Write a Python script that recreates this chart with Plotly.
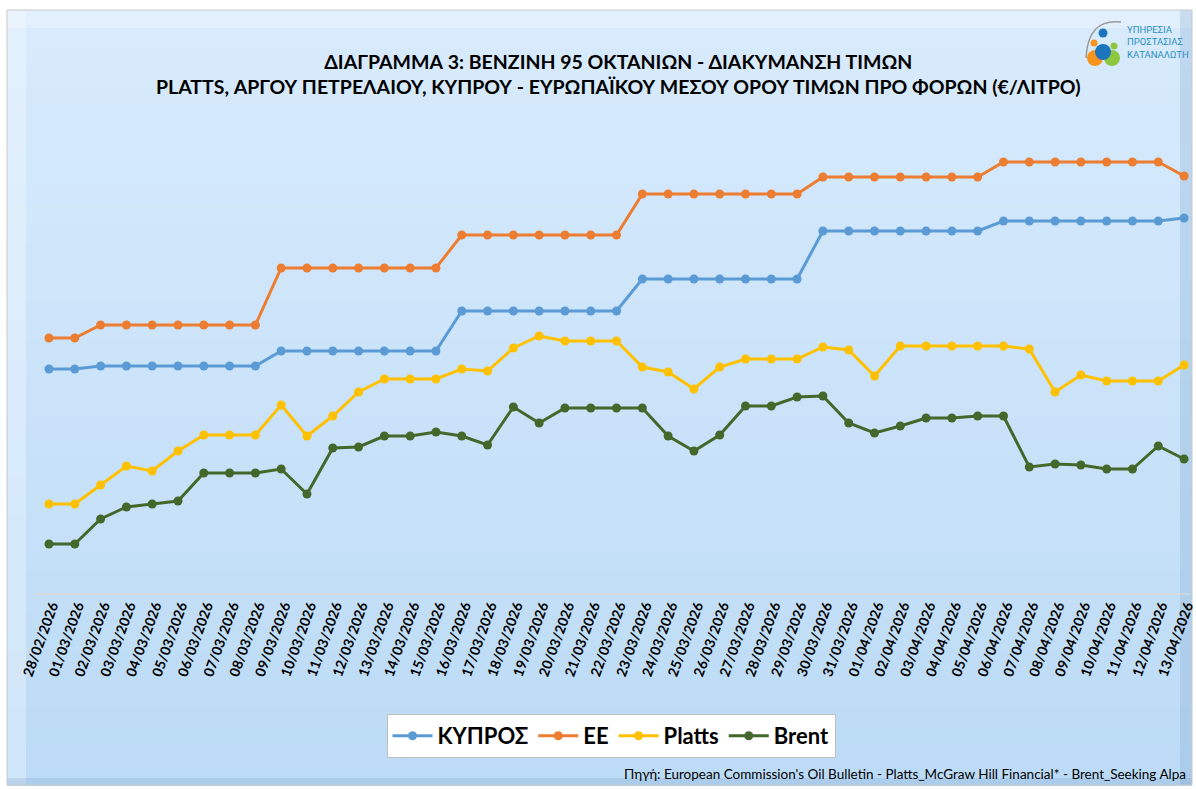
import pandas as pd
import plotly.graph_objects as go

# dates on the category axis
dates = [d.strftime("%d/%m/%Y") for d in pd.date_range("2026-02-28", "2026-04-13")]

# the reference has no value axis, so values are read off in relative units
kypros = [431, 431, 434, 434, 434, 434, 434, 434, 434, 449, 449, 449, 449, 449, 449, 449,
          489, 489, 489, 489, 489, 489, 489, 521, 521, 521, 521, 521, 521, 521,
          569, 569, 569, 569, 569, 569, 569, 579, 579, 579, 579, 579, 579, 579, 582]
ee = [462, 462, 475, 475, 475, 475, 475, 475, 475, 532, 532, 532, 532, 532, 532, 532,
      565, 565, 565, 565, 565, 565, 565, 606, 606, 606, 606, 606, 606, 606,
      623, 623, 623, 623, 623, 623, 623, 638, 638, 638, 638, 638, 638, 638, 624]
platts = [296, 296, 315, 334, 329, 349, 365, 365, 365, 395, 364, 384, 408, 421, 421, 421,
          431, 429, 452, 464, 459, 459, 459, 433, 428, 411, 433, 441, 441, 441,
          453, 450, 424, 454, 454, 454, 454, 454, 451, 408, 425, 419, 419, 419, 435]
brent = [256, 256, 281, 293, 296, 299, 327, 327, 327, 331, 306, 352, 353, 364, 364, 368,
         364, 355, 393, 377, 392, 392, 392, 392, 364, 349, 365, 394, 394, 403,
         404, 377, 367, 374, 382, 382, 384, 384, 333, 336, 335, 331, 331, 354, 341]

series = [("ΚΥΠΡΟΣ", kypros, "#5B9BD5"), ("ΕΕ", ee, "#ED7D31"),
          ("Platts", platts, "#FFC000"), ("Brent", brent, "#43682B")]

W, H = 1196, 789
L, R, T, B = 36, 6, 120, 195
PW, PH = W - L - R, H - T - B


def px(x):
    return (x - L) / PW


def py(y):
    return (H - B - y) / PH


fig = go.Figure()
for name, vals, col in series:
    fig.add_trace(go.Scatter(x=dates, y=vals, name=name, mode="lines+markers",
                             line=dict(color=col, width=3),
                             marker=dict(color=col, size=9)))

shapes = []
# gradient background of the chart area
top_c, bot_c = (216, 235, 252), (188, 219, 246)
n = 40
y0, y1 = 10, 785
for i in range(n):
    t = i / (n - 1)
    c = tuple(round(a + (b - a) * t) for a, b in zip(top_c, bot_c))
    ya = y0 + (y1 - y0) * i / n
    yb = y0 + (y1 - y0) * (i + 1) / n + 1
    shapes.append(dict(type="rect", xref="paper", yref="paper", layer="below",
                       x0=px(7), x1=px(1192), y0=py(ya), y1=py(yb),
                       line=dict(width=0), fillcolor="rgb(%d,%d,%d)" % c))
# bevel edges
shapes.append(dict(type="rect", xref="paper", yref="paper", layer="below",
                   x0=px(7), x1=px(26), y0=py(785), y1=py(10),
                   line=dict(width=0), fillcolor="rgba(255,255,255,0.3)"))
shapes.append(dict(type="rect", xref="paper", yref="paper", layer="below",
                   x0=px(7), x1=px(1192), y0=py(28), y1=py(10),
                   line=dict(width=0), fillcolor="rgba(255,255,255,0.25)"))
shapes.append(dict(type="rect", xref="paper", yref="paper", layer="below",
                   x0=px(1180), x1=px(1192), y0=py(785), y1=py(10),
                   line=dict(width=0), fillcolor="rgba(120,160,200,0.25)"))
shapes.append(dict(type="rect", xref="paper", yref="paper", layer="below",
                   x0=px(7), x1=px(1192), y0=py(785), y1=py(778),
                   line=dict(width=0), fillcolor="rgba(120,160,200,0.25)"))
shapes.append(dict(type="rect", xref="paper", yref="paper", layer="below",
                   x0=px(7), x1=px(1192), y0=py(785), y1=py(10),
                   line=dict(width=1, color="#c8c8c8"), fillcolor="rgba(0,0,0,0)"))
# axis line
shapes.append(dict(type="line", xref="paper", yref="paper", layer="below",
                   x0=0, x1=1, y0=0, y1=0, line=dict(width=1.5, color="#d9d9d9")))

# logo
shapes.append(dict(type="path", xref="paper", yref="paper",
                   path="M %f %f Q %f %f %f %f" % (px(1086), py(58), px(1088), py(18), px(1121), py(22)),
                   line=dict(color="#9a9a9a", width=1.5)))
for cx, cy, r, col in [(1095, 58, 8, "#F7941D"), (1112, 58, 8, "#8DC63F"),
                       (1103, 52, 8, "#1C75BC"), (1103, 33, 4.5, "#1C75BC"),
                       (1094, 43, 3.5, "#F7941D"), (1114, 46, 3.5, "#8DC63F")]:
    shapes.append(dict(type="circle", xref="paper", yref="paper",
                       x0=px(cx - r), x1=px(cx + r), y0=py(cy + r), y1=py(cy - r),
                       line=dict(width=0), fillcolor=col))

annotations = [
    dict(text="<b>ΔΙΑΓΡΑΜΜΑ 3: ΒΕΝΖΙΝΗ 95 ΟΚΤΑΝΙΩΝ - ΔΙΑΚΥΜΑΝΣΗ ΤΙΜΩΝ</b><br>"
              "<b>PLATTS, ΑΡΓΟΥ ΠΕΤΡΕΛΑΙΟΥ, ΚΥΠΡΟΥ - ΕΥΡΩΠΑΪΚΟΥ ΜΕΣΟΥ ΟΡΟΥ ΤΙΜΩΝ ΠΡΟ ΦΟΡΩΝ (€/ΛΙΤΡΟ)</b>",
         xref="paper", yref="paper", x=px(618), y=py(74), showarrow=False,
         font=dict(family="Lato", size=19.5, color="#000000"), xanchor="center", yanchor="middle"),
    dict(text="Πηγή: European Commission's Oil Bulletin - Platts_McGraw Hill Financial* - Brent_Seeking Alpa",
         xref="paper", yref="paper", x=px(1188), y=py(774), showarrow=False,
         font=dict(family="Lato", size=13.5, color="#000000"), xanchor="right", yanchor="middle"),
    dict(text="ΥΠΗΡΕΣΙΑ<br>ΠΡΟΣΤΑΣΙΑΣ<br>ΚΑΤΑΝΑΛΩΤΗ", align="left",
         xref="paper", yref="paper", x=px(1125), y=py(42), showarrow=False,
         font=dict(family="Roboto", size=9.5, color="#2A8FBD"),
         xanchor="left", yanchor="middle"),
]

fig.update_layout(
    width=W, height=H, autosize=False,
    margin=dict(l=L, r=R, t=T, b=B),
    paper_bgcolor="white", plot_bgcolor="rgba(0,0,0,0)",
    shapes=shapes, annotations=annotations,
    showlegend=True,
    legend=dict(orientation="h", x=px(611), xanchor="center", y=py(714), yanchor="top",
                bgcolor="white", bordercolor="#bfbfbf", borderwidth=1,
                font=dict(family="Lato", size=22, color="#000000", weight="bold"),
                itemwidth=40, traceorder="normal"),
    xaxis=dict(type="category", range=[-0.504, 44.23], showgrid=False, zeroline=False,
               showline=False, ticks="", tickangle=-70, ticklabelshift=3, automargin=False,
               tickfont=dict(family="Lato", size=14, color="#000000", weight="bold")),
    yaxis=dict(range=[206, 680], visible=False, showgrid=False, zeroline=False, automargin=False),
)

fig.write_html("out.html", config={"displayModeBar": False, "responsive": False},
               post_script="document.body.style.margin='0';document.body.style.overflow='hidden';")
